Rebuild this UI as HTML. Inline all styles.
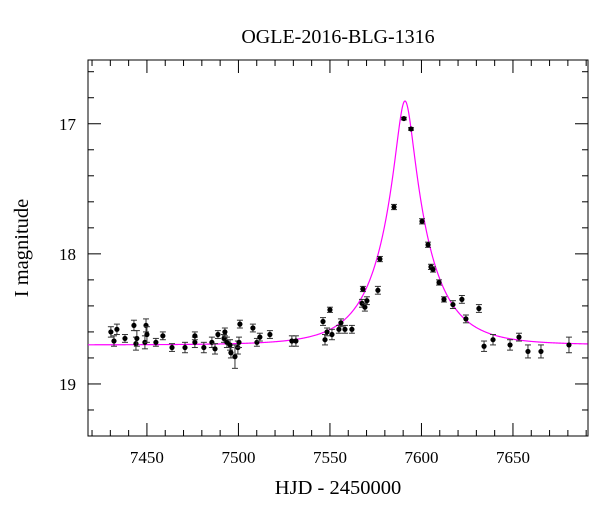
<!DOCTYPE html>
<html><head><meta charset="utf-8"><style>
body{margin:0;background:#fff}
svg text{font-family:"Liberation Serif",serif;fill:#000}
</style></head><body>
<svg id="chart" width="600" height="512" xmlns="http://www.w3.org/2000/svg">
<text x="338" y="43" font-size="20" text-anchor="middle">OGLE-2016-BLG-1316</text>
<text x="338" y="494" font-size="20.5" text-anchor="middle">HJD - 2450000</text>
<text x="0" y="0" font-size="20.5" text-anchor="middle" transform="translate(28,248) rotate(-90)">I magnitude</text>
<g id="axes"></g><g id="model"></g><g id="points"></g>
</svg>
<script>
const days=[7430.3,7432.0,7433.6,7438.0,7442.9,7444.0,7444.5,7448.9,7449.5,7450.0,7454.9,7458.7,7463.7,7470.8,7476.2,7476.2,7481.1,7485.5,7487.2,7488.8,7492.1,7492.6,7493.7,7495.4,7495.9,7498.1,7499.7,7500.3,7500.8,7507.9,7510.1,7511.7,7517.2,7529.2,7531.4,7546.2,7547.3,7548.4,7550.0,7551.1,7554.9,7556.0,7558.2,7562.0,7567.5,7568.0,7569.1,7570.2,7576.2,7577.3,7585.0,7590.4,7594.3,7600.3,7603.6,7605.2,7606.3,7609.6,7612.3,7617.2,7622.1,7624.3,7631.4,7634.2,7639.1,7648.4,7653.3,7658.2,7665.3,7680.6];
const mags=[18.60,18.67,18.58,18.65,18.55,18.69,18.65,18.68,18.55,18.62,18.68,18.63,18.72,18.72,18.68,18.63,18.72,18.68,18.73,18.62,18.65,18.60,18.68,18.70,18.76,18.79,18.72,18.68,18.54,18.57,18.68,18.64,18.62,18.67,18.67,18.52,18.66,18.60,18.43,18.62,18.58,18.53,18.58,18.58,18.38,18.27,18.41,18.36,18.28,18.04,17.64,16.96,17.04,17.75,17.93,18.10,18.12,18.22,18.35,18.39,18.35,18.50,18.42,18.71,18.66,18.70,18.64,18.75,18.75,18.70];
const errs=[0.04,0.04,0.04,0.03,0.04,0.05,0.06,0.05,0.05,0.06,0.03,0.03,0.03,0.04,0.04,0.03,0.04,0.04,0.04,0.03,0.03,0.03,0.04,0.04,0.04,0.09,0.05,0.04,0.03,0.03,0.03,0.03,0.03,0.04,0.04,0.03,0.04,0.03,0.02,0.04,0.03,0.03,0.03,0.03,0.03,0.02,0.03,0.03,0.03,0.02,0.02,0.01,0.01,0.02,0.02,0.02,0.02,0.02,0.02,0.03,0.03,0.03,0.03,0.04,0.04,0.04,0.03,0.05,0.05,0.06];
const xTicks=[7450,7500,7550,7600,7650];
const yTicks=[17,18,19];
const modelT0=7591, modelTE=26, modelU0=0.18, modelBase=18.70;
const L=88,R=588,T=60,B=436,X0=7417.8,X1=7691,Y0=16.51,Y1=19.4;
const sx=d=>L+(d-X0)/(X1-X0)*(R-L);
const sy=m=>T+(m-Y0)/(Y1-Y0)*(B-T);
const NS="http://www.w3.org/2000/svg";
function mk(tag,attrs,parent){const e=document.createElementNS(NS,tag);for(const k in attrs)e.setAttribute(k,attrs[k]);parent.appendChild(e);return e;}
const ax=document.getElementById('axes');
const frame=mk('rect',{x:L,y:T,width:R-L,height:B-T,fill:'none',stroke:'#000','stroke-width':1},ax);


for(let d=7420;d<=7690;d+=10){const x=sx(d);const maj=d%50===0;const l=maj?13:6;
 const t1=mk('line',{x1:x,x2:x,y1:B,y2:B-l,stroke:'#000'},ax);
 
 
 const t2=mk('line',{x1:x,x2:x,y1:T,y2:T+l,stroke:'#000'},ax);
 
 }
xTicks.forEach(d=>{const t=mk('text',{x:sx(d),y:B+27,'font-size':17,'text-anchor':'middle'},ax);t.textContent=d;
 
 });
for(let m=16.6;m<19.4;m+=0.2){const y=sy(m);const maj=Math.abs(m-Math.round(m))<0.01;const l=maj?13:6;
 const t1=mk('line',{x1:L,x2:L+l,y1:y,y2:y,stroke:'#000'},ax);
 
 
 const t2=mk('line',{x1:R,x2:R-l,y1:y,y2:y,stroke:'#000'},ax);
 
 }
yTicks.forEach(m=>{const t=mk('text',{x:L-12,y:sy(m)+6,'font-size':17,'text-anchor':'end'},ax);t.textContent=m;
 
 });
let pts=[];for(let d=X0;d<=X1;d+=0.25){const tau=(d-modelT0)/modelTE;const u=Math.sqrt(modelU0*modelU0+tau*tau);
 const A=(u*u+2)/(u*Math.sqrt(u*u+4));pts.push(sx(d).toFixed(2)+','+sy(modelBase-2.5*Math.log10(A)).toFixed(2));}
const ml=mk('polyline',{points:pts.join(' '),fill:'none',stroke:'#ff00ff','stroke-width':1.2},document.getElementById('model'));


const pg=document.getElementById('points');
days.forEach((d,i)=>{const x=sx(d),y=sy(mags[i]),e=errs[i]*(B-T)/(Y1-Y0);
 const g=mk('g',{},pg);
 
 
 mk('line',{x1:x,x2:x,y1:y-e,y2:y+e,stroke:'#333','stroke-width':1},g);
 mk('line',{x1:x-3,x2:x+3,y1:y-e,y2:y-e,stroke:'#333','stroke-width':1},g);
 mk('line',{x1:x-3,x2:x+3,y1:y+e,y2:y+e,stroke:'#333','stroke-width':1},g);
 mk('circle',{cx:x,cy:y,r:2.6,fill:'#000'},g);});
</script>
</body></html>
